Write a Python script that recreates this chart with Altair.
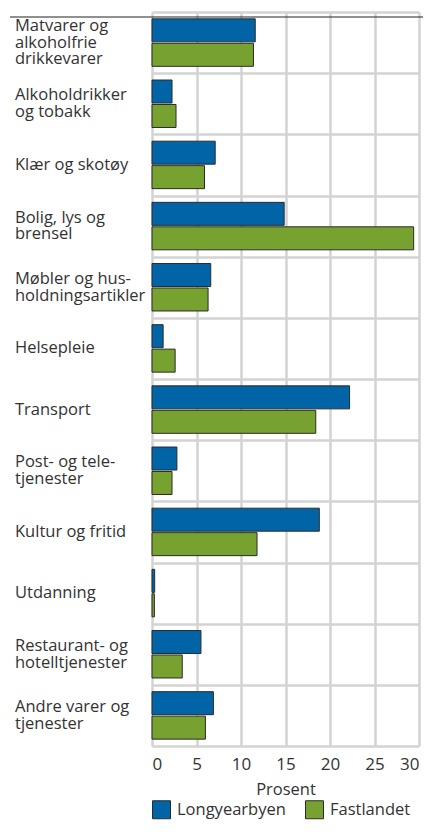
import altair as alt
import pandas as pd

categories = [
    "Matvarer og|alkoholfrie|drikkevarer",
    "Alkoholdrikker|og tobakk",
    "Klær og skotøy",
    "Bolig, lys og|brensel",
    "Møbler og hus-|holdningsartikler",
    "Helsepleie",
    "Transport",
    "Post- og tele-|tjenester",
    "Kultur og fritid",
    "Utdanning",
    "Restaurant- og|hotelltjenester",
    "Andre varer og|tjenester",
]
longyearbyen = [11.6, 2.25, 7.1, 14.85, 6.6, 1.25, 22.2, 2.8, 18.8, 0.3, 5.5, 6.9]
fastlandet = [11.4, 2.7, 5.9, 29.4, 6.3, 2.6, 18.4, 2.25, 11.8, 0.27, 3.4, 6.0]
series = ["Longyearbyen", "Fastlandet"]
colors = ["#0064A6", "#78A22F"]
x_ticks = [0, 5, 10, 15, 20, 25, 30]

rows = []
for c, l, f in zip(categories, longyearbyen, fastlandet):
    rows.append({"kategori": c, "serie": series[0], "verdi": l})
    rows.append({"kategori": c, "serie": series[1], "verdi": f})
df = pd.DataFrame(rows)

labels_df = pd.DataFrame({
    "kategori": categories,
    "nlines": [c.count("|") + 1 for c in categories],
})

FONT = "Open Sans"
TXT = "#333333"
GRID = "#d3d3d3"
FS = 16.5
LH = 16.7

y_enc = alt.Y(
    "kategori:N",
    sort=categories,
    scale=alt.Scale(paddingInner=0, paddingOuter=0),
    axis=alt.Axis(
        title=None,
        grid=True,
        tickBand="extent",
        gridColor=GRID,
        gridWidth=2.5,
        ticks=False,
        domain=False,
        labels=False,
    ),
)

bars = alt.Chart(df).mark_bar(stroke="#2b2b2b", strokeWidth=1).encode(
    x=alt.X(
        "verdi:Q",
        scale=alt.Scale(domain=[0, 30], nice=False),
        axis=alt.Axis(
            values=x_ticks,
            title="Prosent",
            grid=True,
            gridColor=GRID,
            gridWidth=2.5,
            ticks=False,
            domain=False,
            labelFontSize=17,
            labelPadding=10,
            titleFontSize=FS,
            titleFontWeight="normal",
            titlePadding=9,
            labelColor=TXT,
            titleColor=TXT,
        ),
    ),
    y=y_enc,
    yOffset=alt.YOffset(
        "serie:N",
        sort=series,
        scale=alt.Scale(paddingInner=0.06, paddingOuter=0.28),
    ),
    color=alt.Color(
        "serie:N",
        sort=series,
        scale=alt.Scale(domain=series, range=colors),
        legend=alt.Legend(
            title=None,
            orient="none",
            legendX=0,
            legendY=788,
            direction="horizontal",
            symbolType="square",
            symbolSize=324,
            symbolStrokeColor="#2b2b2b",
            symbolStrokeWidth=1,
            labelFontSize=FS,
            labelColor=TXT,
            labelOffset=6,
            columnPadding=17,
            padding=0,
        ),
    ),
)

text_layers = []
for n in [1, 2, 3]:
    t = alt.Chart(labels_df).transform_filter(
        alt.datum.nlines == n
    ).mark_text(
        align="left",
        baseline="middle",
        lineBreak="|",
        lineHeight=LH,
        fontSize=FS,
        color=TXT,
        dy=-(n - 1) * LH / 2,
    ).encode(
        x=alt.value(-137),
        y=alt.Y("kategori:N", sort=categories),
        text="kategori:N",
    )
    text_layers.append(t)

topline = alt.Chart(pd.DataFrame({"a": [0]})).mark_rule(color="#222222", strokeWidth=1.2).encode(
    x=alt.value(-142),
    x2=alt.value(271),
    y=alt.value(5),
)

chart = alt.layer(bars, *text_layers, topline).properties(
    width=267,
    height=734,
    autosize=alt.AutoSizeParams(type="none"),
    padding={"left": 144, "top": 4, "right": 4, "bottom": 76},
).configure(font=FONT).configure_view(stroke=None)

chart.save("out.html", embed_options={"renderer": "svg", "actions": False})
